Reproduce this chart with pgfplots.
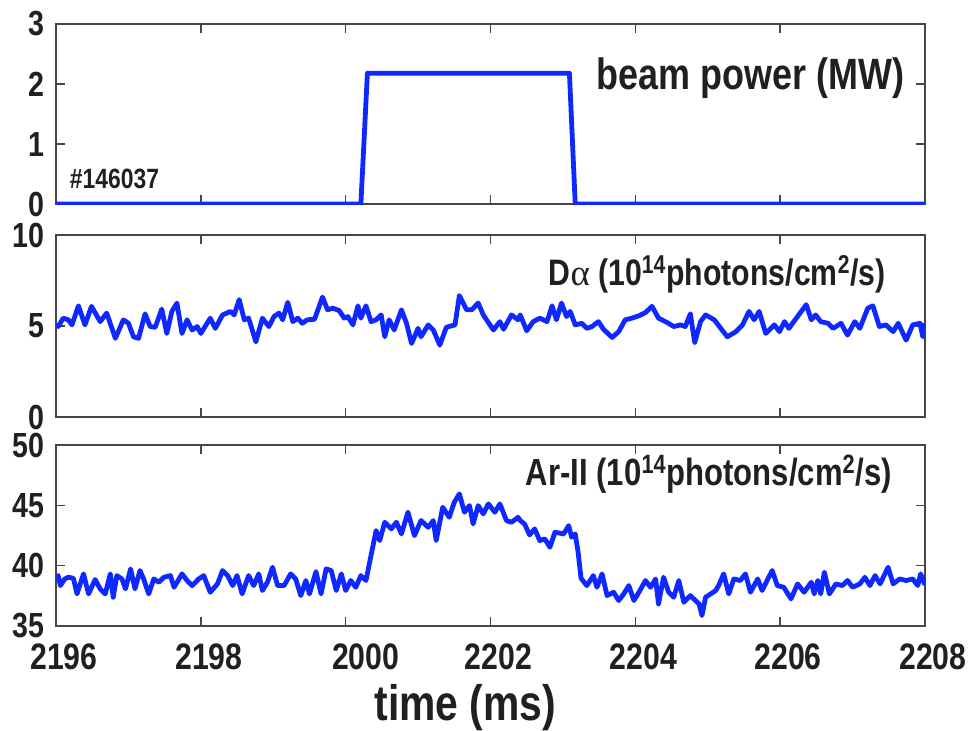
\documentclass[border=0pt]{standalone}
\usepackage{pgfplots}
\pgfplotsset{compat=1.18}
\usepackage{fontspec}
\setmainfont{Liberation Sans}[FakeStretch=0.82]
\newfontfamily\serifgreek{Liberation Serif}
\definecolor{lineblue}{RGB}{15,40,255}
\definecolor{txt}{RGB}{35,31,32}
\definecolor{axgray}{RGB}{70,70,70}
\pgfplotsset{
 panel/.style={
  scale only axis, width=434.5bp, anchor=north west,
  xmin=2196, xmax=2208, xtick={2196,2198,...,2208},
  tick align=inside, major tick length=4.5bp,
  axis line style={axgray, line width=0.7bp},
  tick style={axgray, line width=0.7bp},
  xticklabel style={font=\bfseries\fontsize{18.5}{20}\selectfont, text=txt, inner sep=0.5bp, yshift=-8bp, xshift=4bp},
  yticklabel style={font=\bfseries\fontsize{17.5}{19}\selectfont, text=txt, inner sep=0.5bp, xshift=-5bp},
  /pgf/number format/assume math mode=true,
  /pgf/number format/1000 sep={},
  no markers,
  every axis plot post/.append style={lineblue, line width=2.4bp, line join=round, mark=none},
 }
}
\pgfplotstableread{
t v
2196.00 5.10
2196.03 4.97
2196.10 5.43
2196.17 5.34
2196.22 5.06
2196.31 6.11
2196.40 5.06
2196.49 6.08
2196.61 5.24
2196.70 5.71
2196.82 4.32
2196.93 5.34
2197.00 5.15
2197.07 4.41
2197.14 4.32
2197.23 5.67
2197.30 4.97
2197.37 4.93
2197.46 5.93
2197.53 4.59
2197.60 5.80
2197.67 6.26
2197.74 4.59
2197.81 5.34
2197.88 4.78
2197.95 4.97
2198.00 4.59
2198.13 5.43
2198.20 4.87
2198.30 5.61
2198.41 5.80
2198.46 5.61
2198.53 6.45
2198.60 5.34
2198.66 5.43
2198.76 4.13
2198.85 5.43
2198.94 4.97
2199.01 5.52
2199.08 5.71
2199.13 5.34
2199.20 6.30
2199.27 5.24
2199.34 5.43
2199.40 5.15
2199.47 5.34
2199.57 5.37
2199.68 6.59
2199.75 5.89
2199.82 5.98
2199.91 5.85
2199.98 5.43
2200.03 5.52
2200.10 5.06
2200.17 6.11
2200.21 5.43
2200.28 6.11
2200.35 5.24
2200.42 5.34
2200.49 5.61
2200.54 4.41
2200.60 5.34
2200.67 4.78
2200.77 5.89
2200.84 5.15
2200.91 4.04
2201.00 4.87
2201.04 4.41
2201.14 5.06
2201.21 4.78
2201.30 3.95
2201.39 4.93
2201.51 5.06
2201.57 6.67
2201.67 5.89
2201.74 5.89
2201.83 6.26
2201.90 5.61
2202.04 4.78
2202.13 5.24
2202.18 4.82
2202.29 5.61
2202.38 5.34
2202.41 5.61
2202.50 4.74
2202.59 5.24
2202.68 5.43
2202.78 5.24
2202.85 6.11
2202.91 5.34
2202.98 6.26
2203.05 5.52
2203.10 5.80
2203.17 5.06
2203.26 5.15
2203.33 4.87
2203.40 4.97
2203.49 5.24
2203.56 4.82
2203.68 4.37
2203.77 4.69
2203.86 5.34
2203.95 5.43
2204.05 5.56
2204.14 5.74
2204.23 6.08
2204.32 5.43
2204.44 5.19
2204.53 4.97
2204.62 5.06
2204.69 4.97
2204.76 5.67
2204.82 4.08
2204.90 5.24
2204.97 5.61
2205.09 5.34
2205.18 4.87
2205.27 4.41
2205.39 4.69
2205.48 5.06
2205.57 5.80
2205.64 5.34
2205.71 5.80
2205.80 4.59
2205.92 5.06
2205.99 4.69
2206.06 5.24
2206.12 4.87
2206.24 5.52
2206.36 6.17
2206.43 5.34
2206.49 5.61
2206.56 5.24
2206.66 5.15
2206.73 4.87
2206.84 5.15
2206.93 4.50
2207.03 5.24
2207.10 4.87
2207.21 5.98
2207.28 6.11
2207.37 4.97
2207.46 5.06
2207.56 4.69
2207.63 5.15
2207.74 4.22
2207.83 5.06
2207.93 5.15
2207.97 4.41
2208.00 5.15
}\dalpha
\pgfplotstableread{
t v
2196.00 39.00
2196.03 39.18
2196.06 38.35
2196.12 38.90
2196.17 39.04
2196.24 38.96
2196.29 37.66
2196.38 39.32
2196.45 37.66
2196.54 38.85
2196.61 38.08
2196.68 37.66
2196.75 39.32
2196.79 37.38
2196.84 39.18
2196.91 38.90
2196.96 38.08
2197.03 39.73
2197.09 38.08
2197.16 39.60
2197.21 38.90
2197.28 37.66
2197.35 38.90
2197.42 38.63
2197.49 39.04
2197.58 39.18
2197.63 38.21
2197.74 39.32
2197.81 38.77
2197.88 38.35
2197.97 38.90
2198.04 39.18
2198.13 37.80
2198.23 38.49
2198.30 39.60
2198.37 39.18
2198.44 38.35
2198.50 39.18
2198.57 37.66
2198.66 39.18
2198.73 38.35
2198.80 39.32
2198.85 37.94
2198.92 38.63
2198.99 39.87
2199.06 38.35
2199.15 38.35
2199.24 39.32
2199.31 38.90
2199.38 37.52
2199.45 38.77
2199.50 37.66
2199.59 39.51
2199.66 37.66
2199.73 39.73
2199.80 39.60
2199.87 37.94
2199.94 39.32
2200.00 37.94
2200.07 38.77
2200.14 38.21
2200.21 39.18
2200.28 38.77
2200.35 40.84
2200.42 42.91
2200.47 42.08
2200.54 43.60
2200.63 43.05
2200.70 43.60
2200.77 42.63
2200.86 44.43
2200.95 42.49
2201.04 43.74
2201.14 43.18
2201.21 43.74
2201.25 42.08
2201.34 44.84
2201.43 44.01
2201.50 45.26
2201.57 45.95
2201.64 44.43
2201.71 44.98
2201.76 43.46
2201.83 44.98
2201.90 44.29
2201.97 45.12
2202.06 44.43
2202.13 45.12
2202.22 43.74
2202.29 43.60
2202.38 44.01
2202.41 43.74
2202.47 43.46
2202.54 42.55
2202.61 43.05
2202.68 42.08
2202.75 42.22
2202.82 41.53
2202.89 42.77
2203.01 42.63
2203.08 43.32
2203.12 42.36
2203.17 42.63
2203.21 41.11
2203.25 38.96
2203.33 38.35
2203.42 39.18
2203.47 38.21
2203.54 39.32
2203.61 37.52
2203.70 37.80
2203.77 37.11
2203.84 37.66
2203.91 38.35
2203.98 37.11
2204.05 37.80
2204.14 38.77
2204.21 38.21
2204.28 38.90
2204.32 36.83
2204.39 39.04
2204.46 37.80
2204.53 37.38
2204.60 38.77
2204.67 36.97
2204.76 37.52
2204.83 37.11
2204.88 36.83
2204.92 35.87
2204.97 37.38
2205.04 37.66
2205.11 37.94
2205.15 38.35
2205.22 39.32
2205.29 37.66
2205.36 38.90
2205.45 38.77
2205.52 39.32
2205.59 37.80
2205.69 38.90
2205.75 37.94
2205.82 38.77
2205.89 39.60
2205.96 38.35
2206.05 38.21
2206.15 37.25
2206.24 38.49
2206.33 37.80
2206.43 38.63
2206.47 37.66
2206.52 38.77
2206.56 37.66
2206.61 39.46
2206.68 37.66
2206.77 38.49
2206.86 38.35
2206.93 38.77
2207.00 38.21
2207.10 38.49
2207.17 39.04
2207.24 38.35
2207.31 39.18
2207.38 38.49
2207.49 39.87
2207.56 38.49
2207.65 38.90
2207.74 38.77
2207.83 38.90
2207.90 38.35
2207.94 39.32
2208.00 38.41
}\arii
\begin{document}
\begin{tikzpicture}
\path[use as bounding box] (0,0) rectangle (486bp,-365.5bp);
% panel 1: beam power
\begin{axis}[panel, at={(28bp,-12bp)}, height=90bp,
  ymin=0, ymax=3, ytick={0,1,2,3}, xticklabels={}]
\addplot coordinates {(2196,0) (2200.21,0) (2200.30,2.18) (2203.09,2.18) (2203.17,0) (2208,0)};
\node[anchor=east, font=\bfseries\fontsize{22}{24}\selectfont, text=txt] at (rel axis cs:0.984,0.70) {beam power (MW)};
\node[anchor=west, font=\bfseries\fontsize{14}{16}\selectfont, text=txt] at (rel axis cs:0.008,0.14) {\#146037};
\end{axis}
% panel 2: D-alpha
\begin{axis}[panel, at={(28bp,-117.5bp)}, height=91bp,
  ymin=0, ymax=10, ytick={0,5,10}, xticklabels={}]
\addplot table[x=t, y=v] {\dalpha};
\node[anchor=east, font=\bfseries\fontsize{18.5}{20}\selectfont, text=txt] at (rel axis cs:0.963,0.783) {D{\serifgreek\mdseries α} (10\textsuperscript{14}photons/cm\textsuperscript{2}/s)};
\end{axis}
% panel 3: Ar-II
\begin{axis}[panel, at={(28bp,-222.5bp)}, height=90.5bp,
  ymin=35, ymax=50, ytick={35,40,45,50},
  xticklabels={2196,2198,\hspace*{12bp}2000,2202,2204,2206,2208},
  xlabel={time (ms)},
  xlabel style={at={(axis description cs:0.471,-0.453)}, anchor=center, font=\bfseries\fontsize{25}{27}\selectfont, text=txt}]
\addplot table[x=t, y=v] {\arii};
\node[anchor=east, font=\bfseries\fontsize{19}{21}\selectfont, text=txt] at (rel axis cs:0.970,0.84) {Ar-II (10\textsuperscript{14}photons/cm\textsuperscript{2}/s)};
\end{axis}
\end{tikzpicture}
\end{document}
